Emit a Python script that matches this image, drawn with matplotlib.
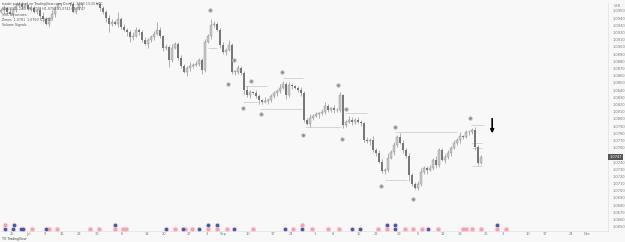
import numpy as np
import matplotlib.pyplot as plt
from matplotlib.transforms import blended_transform_factory

# price data (close per candle)
first_open = 1.0949
closes = [
    1.0951, 1.0954, 1.0949, 1.0946, 1.0951, 1.0957, 1.0960, 1.0956, 1.0958, 1.0953,
    1.0954, 1.0949, 1.0951, 1.0943, 1.0938, 1.0932, 1.0940, 1.0946, 1.0954, 1.0960,
    1.0968, 1.0974, 1.0971, 1.0960, 1.0949, 1.0954, 1.0960, 1.0968, 1.0974, 1.0976,
    1.0971, 1.0968, 1.0960, 1.0954, 1.0949, 1.0940, 1.0932, 1.0935, 1.0932, 1.0938,
    1.0928, 1.0924, 1.0920, 1.0913, 1.0915, 1.0924, 1.0920, 1.0910, 1.0904, 1.0910,
    1.0914, 1.0918, 1.0924, 1.0915, 1.0899, 1.0900, 1.0882, 1.0899, 1.0904, 1.0885,
    1.0874, 1.0865, 1.0870, 1.0874, 1.0875, 1.0876, 1.0882, 1.0868, 1.0907, 1.0915,
    1.0931, 1.0932, 1.0924, 1.0903, 1.0893, 1.0896, 1.0903, 1.0865, 1.0865, 1.0871,
    1.0863, 1.0840, 1.0833, 1.0837, 1.0836, 1.0832, 1.0826, 1.0824, 1.0825, 1.0826,
    1.0831, 1.0836, 1.0839, 1.0843, 1.0849, 1.0833, 1.0847, 1.0845, 1.0843, 1.0840,
    1.0836, 1.0799, 1.0793, 1.0801, 1.0804, 1.0806, 1.0808, 1.0810, 1.0818, 1.0812,
    1.0815, 1.0812, 1.0812, 1.0833, 1.0792, 1.0796, 1.0799, 1.0796, 1.0799, 1.0796,
    1.0794, 1.0771, 1.0769, 1.0771, 1.0757, 1.0753, 1.0740, 1.0728, 1.0729, 1.0746,
    1.0754, 1.0764, 1.0775, 1.0767, 1.0757, 1.0749, 1.0722, 1.0710, 1.0704, 1.0710,
    1.0726, 1.0732, 1.0729, 1.0732, 1.0743, 1.0736, 1.0757, 1.0743, 1.0747, 1.0753,
    1.0760, 1.0767, 1.0771, 1.0776, 1.0775, 1.0781, 1.0782, 1.0785, 1.0761, 1.0739,
    1.0747,
]
# wick lengths in pips
upper_wick = [
    3, 4, 2, 5, 3, 4, 2, 3, 5, 2, 4, 3, 2, 4, 6, 3, 2, 5, 3, 4,
    3, 2, 4, 3, 5, 2, 3, 4, 2, 3, 4, 2, 3, 5, 3, 2, 4, 3, 2, 11,
    3, 4, 2, 3, 5, 3, 2, 4, 3, 2, 3, 4, 10, 3, 2, 4, 3, 5, 2, 3,
    4, 2, 3, 5, 3, 4, 2, 3, 4, 3, 7, 4, 3, 2, 4, 3, 7, 2, 3, 4,
    2, 3, 5, 3, 2, 4, 3, 2, 5, 3, 4, 2, 3, 6, 3, 2, 4, 3, 2, 3,
    4, 3, 2, 5, 3, 4, 2, 3, 6, 3, 2, 4, 3, 4, 2, 3, 5, 3, 2, 4,
    3, 2, 4, 3, 5, 2, 3, 4, 2, 6, 3, 4, 2, 5, 3, 2, 4, 3, 2, 3,
    5, 3, 2, 4, 3, 6, 2, 3, 4, 3, 2, 4, 3, 5, 2, 4, 3, 2, 4, 3,
    3,
]
lower_wick = [
    2, 4, 3, 2, 5, 3, 2, 4, 3, 2, 3, 2, 4, 6, 3, 2, 4, 3, 5, 2,
    3, 4, 2, 3, 2, 4, 3, 5, 2, 3, 4, 3, 2, 4, 3, 5, 12, 3, 2, 4,
    3, 2, 5, 6, 3, 2, 4, 3, 2, 5, 3, 4, 2, 3, 5, 4, 10, 3, 2, 4,
    3, 2, 5, 3, 4, 2, 3, 6, 3, 2, 4, 3, 2, 5, 3, 4, 2, 3, 4, 3,
    2, 5, 3, 4, 2, 3, 6, 3, 2, 4, 3, 2, 4, 3, 2, 6, 3, 4, 2, 3,
    5, 3, 2, 4, 3, 2, 5, 3, 4, 2, 3, 4, 2, 3, 5, 3, 2, 4, 3, 2,
    4, 3, 2, 5, 3, 4, 2, 3, 5, 3, 2, 4, 3, 2, 4, 3, 8, 4, 2, 3,
    4, 3, 5, 2, 3, 4, 3, 2, 5, 3, 4, 2, 3, 5, 3, 2, 4, 3, 5, 3,
    2,
]

# swing point markers
pivot_idx = [69.7, 77.7, 75.7, 83.3, 80.7, 86.7, 93.7, 100.7, 112.3, 115.0,
             113.7, 131.3, 126.7, 156.3, 137.3]
pivot_price = [1.0951, 1.0882, 1.0849, 1.0853, 1.0815, 1.0806, 1.0865, 1.0778, 1.0847, 1.0814,
               1.0772, 1.0789, 1.0706, 1.0801, 1.0689]

# horizontal range lines
level_start = [69.0, 80.7, 80.7, 86.3, 94.0, 101.3, 114.7, 131.3, 128.0, 156.7, 157.0, 157.0, 157.0]
level_end = [72.0, 88.7, 85.7, 100.3, 100.7, 113.0, 122.0, 152.0, 135.3, 161.0, 160.3, 160.3, 160.3]
level_price = [1.0899, 1.0846, 1.0824, 1.0814, 1.0856, 1.0788, 1.0808, 1.0781, 1.0715, 1.0792,
               1.0767, 1.0760, 1.0735]

# signal dots at the bottom of the pane
low_blue = [1.5, 4.0, 6.7, 7.3, 15.0, 55.0, 60.5, 66.0, 77.5, 94.7, 100.3, 117.0, 119.7, 131.3, 142.3]
low_pink = [10.3, 16.0, 18.7, 29.7, 32.7, 38.0, 40.7, 41.7, 58.0, 61.3, 63.7, 69.0, 72.0, 75.3,
            84.0, 97.3, 103.7, 109.0, 112.7, 125.7, 128.7, 134.7, 137.3, 140.3, 145.7, 154.0,
            155.0, 157.0, 160.0, 165.3, 168.3]
up_blue = [4.3, 38.0, 69.0, 72.0, 128.7, 131.3, 165.3]
up_pink = [1.5, 100.3]

xtick_pos = [3.7, 9.0, 14.7, 20.3, 26.0, 32.0, 40.3, 48.7, 54.3, 62.7, 68.7, 74.0, 82.3, 90.7, 96.7,
             104.7, 110.7, 119.3, 125.0, 132.7, 139.0, 147.3, 153.0, 161.7, 167.3, 175.7, 181.3,
             190.0, 195.3]
xtick_labels = ['25', 'Jul', '9', '16', '23', '30', '6', '13', '20', '27', '3', 'Sep', '10', '17',
                '24', '1', '8', '15', '22', '29', '5', '12', '19', '26', '3', '10', '17', '24', 'Dec']

price_ticks = np.arange(1.0650, 1.09501, 0.0010)

bg = '#f8f8f8'
fig = plt.figure(figsize=(6.25, 2.42), dpi=100, facecolor=bg)
ax = fig.add_axes([0, 0.045, 0.9728, 0.943])
ax.set_facecolor(bg)

closes = np.array(closes)
opens = np.concatenate(([first_open], closes[:-1]))
idx = np.arange(len(closes))
hi = np.maximum(opens, closes) + np.array(upper_wick) * 0.0001
lo = np.minimum(opens, closes) - np.array(lower_wick) * 0.0001
up = closes >= opens
bottom = np.minimum(opens, closes)
height = np.maximum(np.abs(closes - opens), 0.00008)

for s, e, p in zip(level_start, level_end, level_price):
    ax.hlines(p, s, e, color='#c6c6c6', lw=0.5, zorder=1)

ax.vlines(idx, lo, hi, color='#939393', lw=0.5, zorder=2)
ax.bar(idx[up], height[up], bottom=bottom[up], width=0.6, color='#c8c8c8',
       edgecolor='#909090', lw=0.3, zorder=3)
ax.bar(idx[~up], height[~up], bottom=bottom[~up], width=0.6, color='#777777',
       lw=0, zorder=3)

ax.scatter(pivot_idx, pivot_price, s=7, color='#8e8e8e', edgecolor='#cfcfcf',
           lw=0.6, zorder=4)

# signal dots in axes-fraction y
tr = ax.get_xaxis_transform()
for xs, yv, col in [(low_pink, 0.009, '#f3a2b2'), (low_blue, 0.009, '#3b5ca6'),
                    (up_pink, 0.027, '#f3a2b2'), (up_blue, 0.027, '#3b5ca6')]:
    ax.scatter(xs, [yv] * len(xs), s=16, color='#fbd3db', lw=0, transform=tr, zorder=4)
    ax.scatter(xs, [yv] * len(xs), s=7, color=col, lw=0, transform=tr, zorder=5)

ax.annotate('', xy=(163.7, 1.0776), xytext=(163.7, 1.0804),
            arrowprops=dict(arrowstyle='-|>', color='black', lw=1.2, mutation_scale=5))

ax.set_xlim(-0.33, 202.3)
ax.set_ylim(1.0644, 1.0961)

# the last-price tag sits on top of the nearest scale label, as in the reference
ylabels = ['' if abs(v - closes[-1]) < 0.0005 else '%.4f' % v for v in price_ticks]
ax.yaxis.tick_right()
ax.set_yticks(price_ticks)
ax.set_yticklabels(ylabels)
ax.tick_params(axis='y', length=0, labelsize=2.6, labelcolor='#7a7a7a', pad=3)
ax.set_xticks(xtick_pos)
ax.set_xticklabels(xtick_labels)
ax.tick_params(axis='x', length=0, labelsize=2.6, labelcolor='#7a7a7a', pad=1)
for side in ['top', 'left']:
    ax.spines[side].set_visible(False)
for side in ['right', 'bottom']:
    ax.spines[side].set_color('#e2e2e2')
    ax.spines[side].set_linewidth(0.5)

# last price tag
tr_y = blended_transform_factory(ax.transAxes, ax.transData)
ax.text(1.002, closes[-1], '%.4f' % closes[-1], transform=tr_y, fontsize=2.6, color='white',
        va='center', ha='left', bbox=dict(boxstyle='square,pad=0.3', fc='#555555', ec='none'))
fig.text(0.982, 0.972, 'USD', fontsize=2.4, color='#7a7a7a', ha='left')

# header / footer text
hdr = ['trader published on TradingView.com, Dec 21, 2023 13:25 UTC',
       'EUR/USD, 240  O1.0746 H1.0752 L1.0741 C1.0747',
       'SMC Structures',
       'Zones  1.0781  1.0760  1.0735',
       'Volume Signals']
for k, line in enumerate(hdr):
    fig.text(0.003, 0.992 - k * 0.022, line, fontsize=2.3, color='#555555', va='top')
fig.text(0.003, 0.004, 'TV TradingView', fontsize=2.3, color='#444444', va='bottom')

fig.savefig('out.png', dpi=100, facecolor=bg)
